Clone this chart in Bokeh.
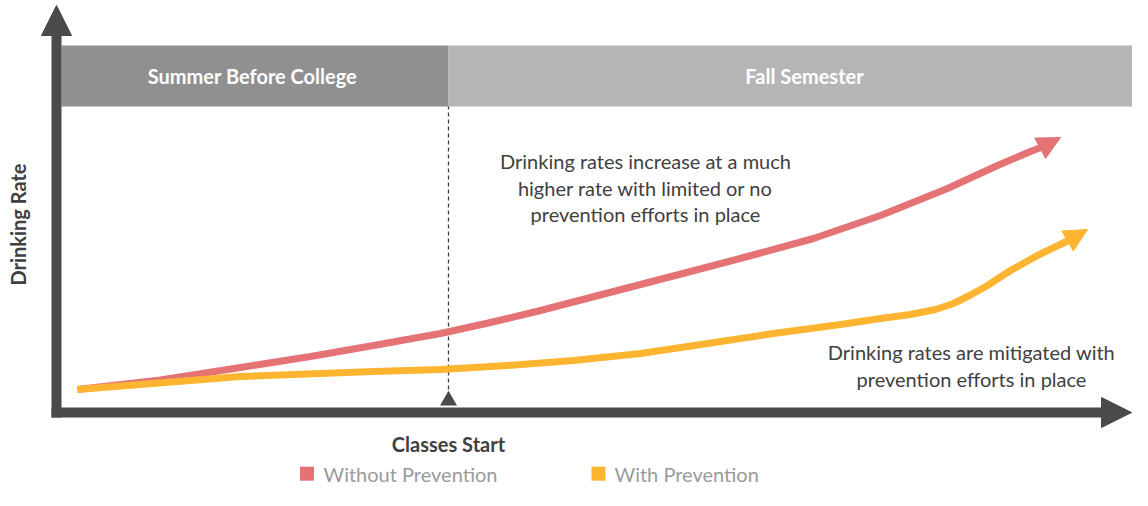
import math
from bokeh.plotting import figure
from bokeh.models import Range1d, Arrow, NormalHead
from bokeh.core.properties import value
from bokeh.embed import file_html
from bokeh.resources import INLINE

# ---- data (conceptual time axis, drinking-rate axis) ----
time_without = [2.1, 10.4, 18.4, 25.4, 31.7, 38.4, 43.4, 48.4, 53.4, 58.4, 63.4, 69.1, 75.7, 82.4, 89.1, 94.1, 97.4, 98.7, 100.4]
rate_without = [5.75, 8.125, 11.25, 14.0, 16.75, 19.75, 22.5, 25.5, 28.75, 32.0, 35.25, 39.0, 43.5, 49.25, 56.0, 61.75, 65.25, 66.5, 68.75]

time_with = [2.1, 18.4, 31.7, 38.4, 45.1, 51.7, 58.4, 65.1, 71.7, 78.4, 82.4, 85.4, 87.9, 89.7, 91.4, 93.1, 95.4, 98.1, 101.2, 103.1]
rate_with = [5.75, 9.0, 10.25, 10.75, 11.75, 13.0, 14.75, 17.25, 19.75, 22.0, 23.5, 24.5, 25.75, 27.25, 29.375, 31.75, 35.5, 39.25, 43.0, 45.75]

classes_start = 39.2
periods = ["Summer Before College", "Fall Semester"]
period_start = [0.5, 39.2]
period_end = [39.2, 110.0]
period_label_x = [19.6, 74.8]

note_without = ["Drinking rates increase at a much", "higher rate with limited or no", "prevention efforts in place"]
note_without_x = 58.9
note_without_y = [63.0, 56.25, 49.75]
note_with = ["Drinking rates are mitigated with", "prevention efforts in place"]
note_with_x = 91.5
note_with_y = [15.25, 8.5]

series_names = ["Without Prevention", "With Prevention"]
series_colors = ["#E57376", "#FDB531"]

AXIS = "#4A4A4A"
TEXT = "#404040"
FONT = "Lato"
FS = "20px"

p = figure(width=1132, height=490, x_range=Range1d(-5.6, 107.6), y_range=Range1d(-19.5, 103),
           output_backend="svg", toolbar_location=None, min_border=0)
p.axis.visible = False
p.grid.visible = False
p.outline_line_color = None
p.background_fill_color = "white"

# header bands
p.quad(left=period_start, right=period_end, top=[91.75, 91.75], bottom=[76.5, 76.5],
       fill_color=["#909090", "#B5B5B5"], line_color=None)
p.text(x=period_label_x, y=[84.25, 84.25], text=periods, text_align="center", text_baseline="middle",
       text_color="white", text_font=value(FONT), text_font_style="bold", text_font_size=FS)

# classes start marker
p.segment(x0=[classes_start], y0=[4.0], x1=[classes_start], y1=[76.5], line_color=TEXT,
          line_width=1.3, line_dash="4 3")
p.scatter(x=[classes_start], y=[3.0], marker="triangle", size=17, fill_color=AXIS, line_color=None)
p.text(x=[classes_start], y=[-7.75], text=["Classes Start"], text_align="center", text_baseline="middle",
       text_color=TEXT, text_font=value(FONT), text_font_style="bold", text_font_size=FS)

# axes (drawn as arrows)
p.segment(x0=[-0.5], y0=[0], x1=[104.8], y1=[0], line_color=AXIS, line_width=10)
p.add_layout(Arrow(end=NormalHead(size=30, fill_color=AXIS, line_color=AXIS, line_width=1),
                   x_start=104.0, y_start=0, x_end=107.5, y_end=0, line_alpha=0))
p.segment(x0=[0], y0=[-1.25], x1=[0], y1=[94.6], line_color=AXIS, line_width=10)
p.add_layout(Arrow(end=NormalHead(size=30, fill_color=AXIS, line_color=AXIS, line_width=1),
                   x_start=0, y_start=93.0, x_end=0, y_end=101.75, line_alpha=0))
p.text(x=[-3.9], y=[47.0], text=["Drinking Rate"], angle=math.pi / 2, text_align="center",
       text_baseline="middle", text_color=TEXT, text_font=value(FONT), text_font_style="bold",
       text_font_size=FS)

# curves with arrow heads
for xs, ys, col in [(time_without, rate_without, series_colors[0]), (time_with, rate_with, series_colors[1])]:
    p.line(x=xs[:-1], y=ys[:-1], line_color=col, line_width=7, line_join="round", line_cap="butt")
    p.add_layout(Arrow(end=NormalHead(size=23, fill_color=col, line_color=col, line_width=1),
                       x_start=xs[-2], y_start=ys[-2], x_end=xs[-1], y_end=ys[-1], line_alpha=0))

# annotations
p.text(x=[note_without_x] * 3, y=note_without_y, text=note_without, text_align="center",
       text_baseline="middle", text_color=TEXT, text_font=value(FONT), text_font_size=FS)
p.text(x=[note_with_x] * 2, y=note_with_y, text=note_with, text_align="center",
       text_baseline="middle", text_color=TEXT, text_font=value(FONT), text_font_size=FS)

# legend
p.scatter(x=[25.05, 54.2], y=[-15.3, -15.3], marker="square", size=14, fill_color=series_colors,
          line_color=None)
p.text(x=[26.7, 55.8], y=[-15.3, -15.3], text=series_names, text_align="left", text_baseline="middle",
       text_color="#9A9A9A", text_font=value(FONT), text_font_size=FS)

open("out.html", "w").write(file_html(p, INLINE))
